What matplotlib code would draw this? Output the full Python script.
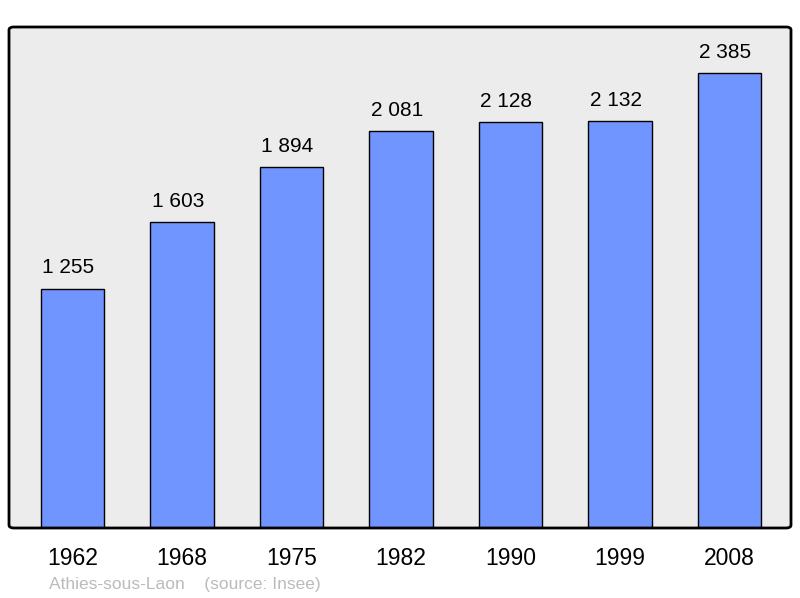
import matplotlib.pyplot as plt
from matplotlib.patches import FancyBboxPatch

plt.rcParams['font.family'] = ['Liberation Sans', 'DejaVu Sans']

years = ["1962", "1968", "1975", "1982", "1990", "1999", "2008"]
population = [1255, 1603, 1894, 2081, 2128, 2132, 2385]
value_labels = ["1 255", "1 603", "1 894", "2 081", "2 128", "2 132", "2 385"]

fig = plt.figure(figsize=(8, 5.98), dpi=100)
ax = fig.add_axes([9 / 800, 70 / 598, 782 / 800, 501 / 598])
ax.set_facecolor("#ececec")

x = range(len(years))
bars = ax.bar(x, population, width=0.58, color="#7095ff",
              edgecolor="black", linewidth=1.0, zorder=2)

for bar, lab in zip(bars, value_labels):
    ax.annotate(lab, (bar.get_x() + bar.get_width() / 2, bar.get_height()),
                xytext=(-3, 8), textcoords="offset points",
                ha="center", va="bottom", fontsize=15)

ax.set_xlim(-0.58, 6.56)
ax.set_ylim(0, 2626)
ax.set_yticks([])
ax.set_xticks(list(x))
ax.set_xticklabels(years, fontsize=16.5)
ax.tick_params(axis="x", length=0, pad=14)

for s in ax.spines.values():
    s.set_visible(False)
frame = FancyBboxPatch((0, 0), 1, 1, boxstyle="round,pad=0,rounding_size=0.006",
                       transform=ax.transAxes, fill=False, edgecolor="black",
                       linewidth=2, zorder=5, clip_on=False)
ax.add_patch(frame)

fig.text(49 / 800, 1 - 585 / 598, "Athies-sous-Laon    (source: Insee)",
         color="#bbbbbb", fontsize=12.5, va="center", ha="left")

fig.savefig("out.png", dpi=100)
